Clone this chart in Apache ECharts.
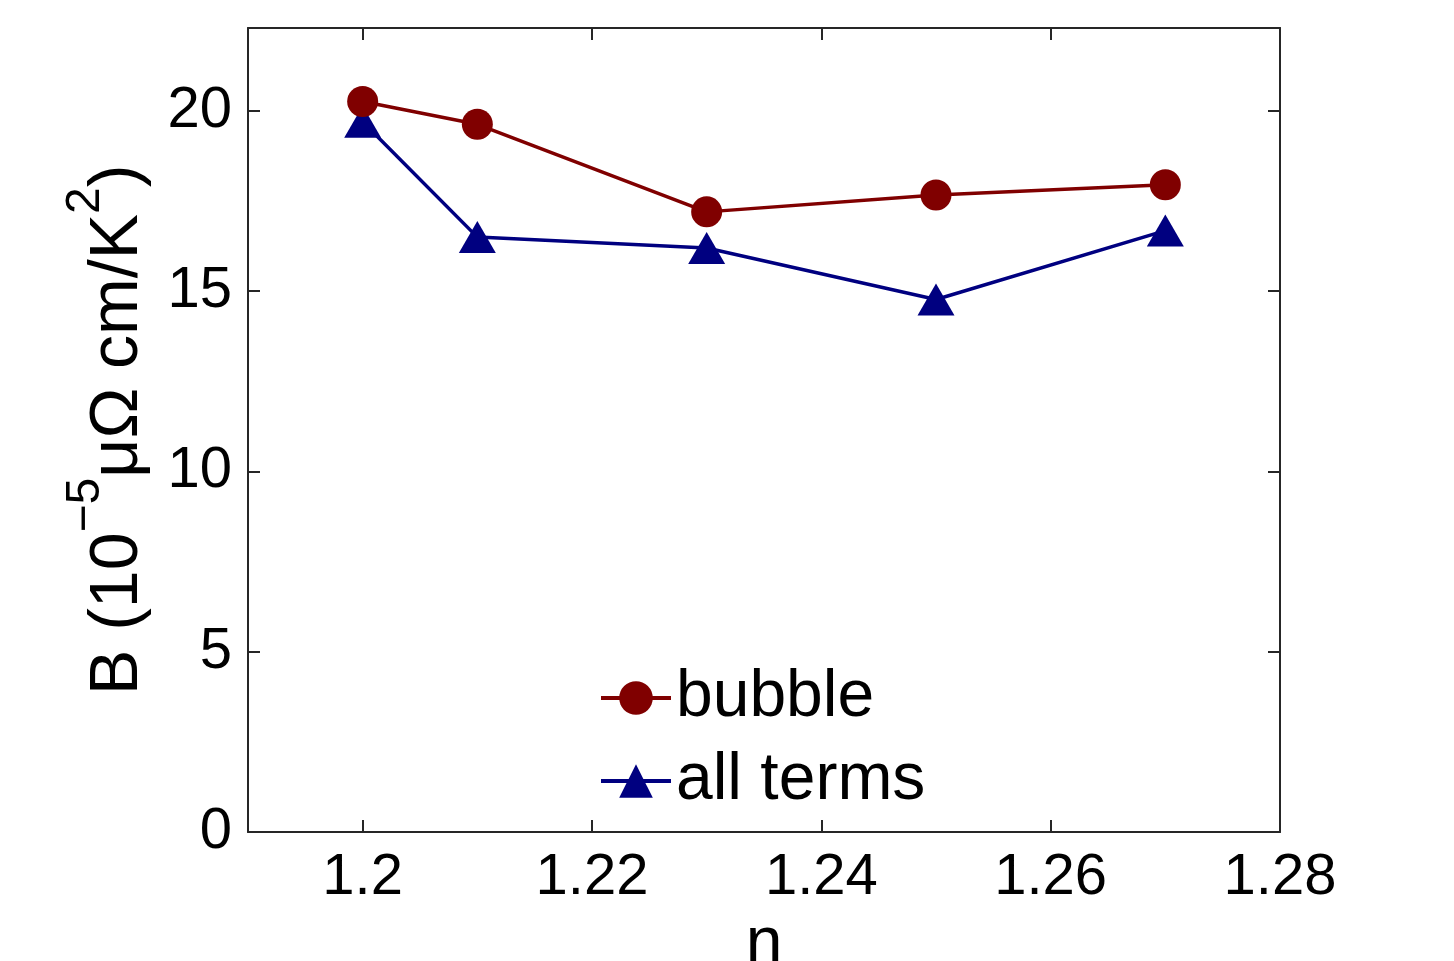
<!DOCTYPE html>
<html>
<head>
<meta charset="utf-8">
<script src="https://cdn.jsdelivr.net/npm/echarts@6/dist/echarts.min.js"></script>
<style>
html,body{margin:0;padding:0;background:#fff;}
#main{width:1454px;height:961px;}
</style>
</head>
<body>
<div id="main"></div>
<script>
const nValues = [1.20, 1.21, 1.23, 1.25, 1.27];
const bubble = [20.26, 19.63, 17.20, 17.67, 17.95];
const allTerms = [19.70, 16.50, 16.20, 14.77, 16.68];
const xTicks = [1.2, 1.22, 1.24, 1.26, 1.28];
const yTicks = [0, 5, 10, 15, 20];

const FONT = 'Liberation Sans';
const frame = '#262626';

const chart = echarts.init(document.getElementById('main'));
const mk = (a) => nValues.map((x, i) => [x, a[i]]);

const tickStyle = { show: true, inside: true, length: 12, lineStyle: { color: frame, width: 2 } };
const axisCommon = {
  axisLine: { show: true, onZero: false, lineStyle: { color: frame, width: 2 } },
  splitLine: { show: false },
  minorTick: { show: false }
};

chart.setOption({
  animation: false,
  textStyle: { fontFamily: FONT, color: '#000' },
  grid: { left: 248, right: 174, top: 28, bottom: 129, containLabel: false, outerBoundsMode: 'none' },
  xAxis: [
    Object.assign({}, axisCommon, {
      type: 'value', min: 1.19, max: 1.28, interval: 0.01, position: 'bottom',
      name: 'n', nameLocation: 'middle', nameGap: 70,
      nameTextStyle: { fontSize: 66, color: '#000', fontFamily: FONT },
      axisLabel: { fontSize: 58, color: '#000', margin: 17, fontFamily: FONT, customValues: xTicks },
      axisTick: Object.assign({}, tickStyle, { customValues: xTicks })
    }),
    Object.assign({}, axisCommon, {
      type: 'value', min: 1.19, max: 1.28, interval: 0.01, position: 'top',
      axisLabel: { show: false },
      axisTick: Object.assign({}, tickStyle, { customValues: xTicks })
    })
  ],
  yAxis: [
    Object.assign({}, axisCommon, {
      type: 'value', min: 0, max: 22.3, interval: 5, position: 'left',
      name: '{h| }{a|B (10}{s|−5}{a|μΩ cm/K}{s|2}{a|)}',
      nameLocation: 'middle', nameRotate: 90, nameGap: 96,
      nameTextStyle: {
        fontFamily: FONT, color: '#000',
        rich: {
          h: { fontSize: 1, lineHeight: 90, verticalAlign: 'bottom' },
          a: { fontSize: 68, lineHeight: 68, verticalAlign: 'bottom', fontFamily: FONT, color: '#000' },
          s: { fontSize: 48, lineHeight: 48, verticalAlign: 'top', fontFamily: FONT, color: '#000' }
        }
      },
      axisLabel: { fontSize: 58, color: '#000', margin: 16, fontFamily: FONT, customValues: yTicks },
      axisTick: Object.assign({}, tickStyle, { customValues: yTicks })
    }),
    Object.assign({}, axisCommon, {
      type: 'value', min: 0, max: 22.3, interval: 5, position: 'right',
      axisLabel: { show: false },
      axisTick: Object.assign({}, tickStyle, { customValues: yTicks })
    })
  ],
  legend: {
    orient: 'vertical', left: 594, top: 660,
    itemWidth: 70, itemHeight: 42, itemGap: 17,
    lineStyle: { width: 4 },
    textStyle: { fontSize: 66, lineHeight: 66, color: '#000', fontFamily: FONT },
    data: ['bubble', 'all terms']
  },
  series: [
    {
      name: 'bubble', type: 'line', data: mk(bubble),
      xAxisIndex: 0, yAxisIndex: 0,
      symbol: 'circle', symbolSize: 31, showAllSymbol: true,
      lineStyle: { color: '#800000', width: 3.5 },
      itemStyle: { color: '#800000' }, z: 3
    },
    {
      name: 'all terms', type: 'line', data: mk(allTerms),
      xAxisIndex: 0, yAxisIndex: 0,
      symbol: 'triangle', symbolSize: [37, 32], showAllSymbol: true,
      lineStyle: { color: '#000080', width: 3.5 },
      itemStyle: { color: '#000080' }, z: 2
    }
  ]
});
</script>
</body>
</html>
